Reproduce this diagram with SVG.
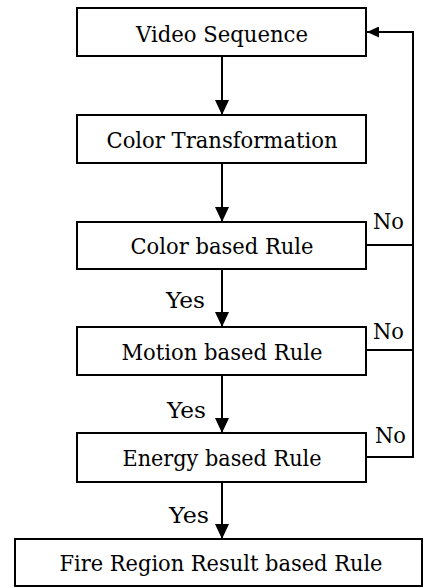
<svg xmlns="http://www.w3.org/2000/svg" width="424" height="588" viewBox="0 0 424 588">
<style>
.box{fill:#fff;stroke:#000;stroke-width:2}
.t{font-family:"DejaVu Serif","Liberation Serif","Times New Roman",serif;font-size:23px;text-anchor:middle;fill:#000}
.l{font-family:"DejaVu Serif","Liberation Serif","Times New Roman",serif;font-size:22px;fill:#000}
.c{fill:none;stroke:#000;stroke-width:2}
</style>
<defs>
<marker id="ah" markerWidth="15" markerHeight="14" refX="15" refY="7" orient="auto" markerUnits="userSpaceOnUse" viewBox="0 0 15 14">
<path d="M0,0 L15,7 L0,14 Z" fill="#000"/>
</marker>
<marker id="ah2" markerWidth="12" markerHeight="11" refX="12" refY="5.5" orient="auto" markerUnits="userSpaceOnUse" viewBox="0 0 12 11">
<path d="M0,0 L12,5.5 L0,11 Z" fill="#000"/>
</marker>
</defs>
<rect width="424" height="588" fill="#fff"/>
<g id="connectors">
<line class="c" x1="222" y1="56" x2="222" y2="115" marker-end="url(#ah)"/>
<line class="c" x1="222" y1="163" x2="222" y2="222" marker-end="url(#ah)"/>
<line class="c" x1="222" y1="269" x2="222" y2="327" marker-end="url(#ah)"/>
<line class="c" x1="222" y1="375" x2="222" y2="433" marker-end="url(#ah)"/>
<line class="c" x1="222" y1="482" x2="222" y2="539" marker-end="url(#ah)"/>
<line class="c" x1="366" y1="245" x2="413" y2="245"/>
<line class="c" x1="366" y1="350" x2="413" y2="350"/>
<polyline class="c" points="366,457 413,457 413,32 367,32" marker-end="url(#ah2)"/>
<text class="l" x="373" y="229" textLength="31" lengthAdjust="spacingAndGlyphs">No</text>
<text class="l" x="373" y="339" textLength="31" lengthAdjust="spacingAndGlyphs">No</text>
<text class="l" x="375" y="443" textLength="31" lengthAdjust="spacingAndGlyphs">No</text>
<text class="l" x="166" y="308" textLength="39" lengthAdjust="spacingAndGlyphs">Yes</text>
<text class="l" x="167" y="418" textLength="39" lengthAdjust="spacingAndGlyphs">Yes</text>
<text class="l" x="169" y="523" textLength="40" lengthAdjust="spacingAndGlyphs">Yes</text>
</g>
<g id="video"><rect class="box" x="77" y="8" width="289" height="48"/><text class="t" x="222" y="42" textLength="172" lengthAdjust="spacingAndGlyphs">Video Sequence</text></g>
<g id="colortrans"><rect class="box" x="77" y="115" width="289" height="48"/><text class="t" x="222" y="148" textLength="231" lengthAdjust="spacingAndGlyphs">Color Transformation</text></g>
<g id="colorrule"><rect class="box" x="77" y="222" width="289" height="47"/><text class="t" x="222" y="254" textLength="183" lengthAdjust="spacingAndGlyphs">Color based Rule</text></g>
<g id="motionrule"><rect class="box" x="77" y="327" width="289" height="48"/><text class="t" x="222" y="360" textLength="201" lengthAdjust="spacingAndGlyphs">Motion based Rule</text></g>
<g id="energyrule"><rect class="box" x="77" y="433" width="289" height="49"/><text class="t" x="222" y="466" textLength="199" lengthAdjust="spacingAndGlyphs">Energy based Rule</text></g>
<g id="fire"><rect class="box" x="15" y="539" width="407" height="47"/><text class="t" x="221" y="571" textLength="323" lengthAdjust="spacingAndGlyphs">Fire Region Result based Rule</text></g>
</svg>
